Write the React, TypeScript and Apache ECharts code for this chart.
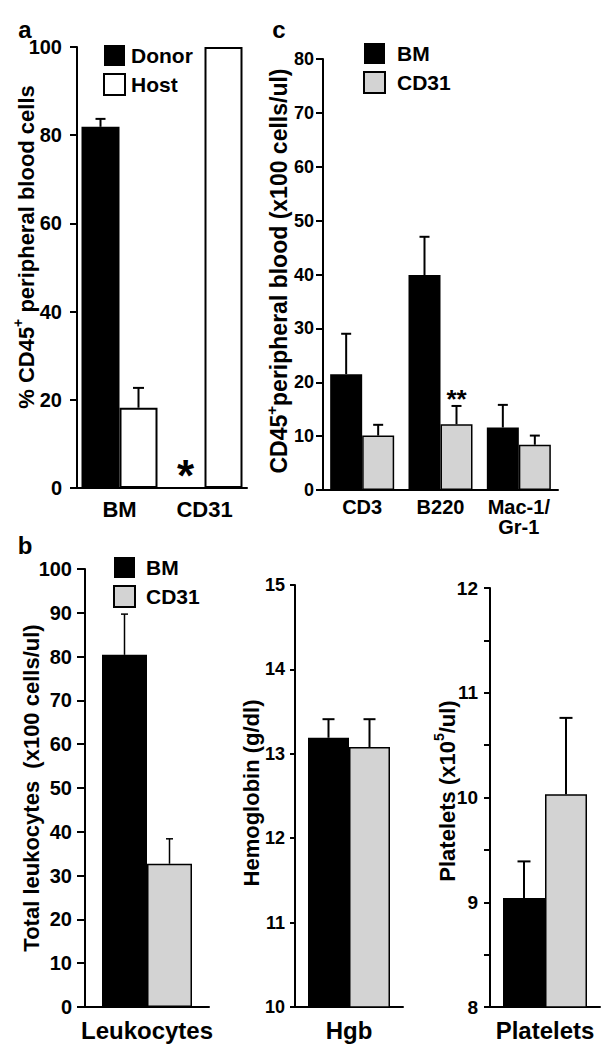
import React, { useEffect, useRef } from 'react';
import * as echarts from 'echarts';

const FONT = '"Liberation Sans", Arial, Helvetica, sans-serif';

// ---------- Panel a ----------
const aCategories = ['BM', 'CD31'];
const aDonor = [81.9, 0];
const aDonorErr = [83.7, 0];
const aHost = [18.2, 100];
const aHostErr = [22.7, 100];
const aDonorSig = ['', '*'];

// ---------- Panel c ----------
const cCategories = ['CD3', 'B220', 'Mac-1/\nGr-1'];
const cBM = [21.5, 39.9, 11.6];
const cBMErr = [29.0, 47.0, 15.8];
const cCD31 = [10.1, 12.2, 8.4];
const cCD31Err = [12.1, 15.6, 10.1];
const cCD31Sig = ['', '**', ''];

// ---------- Panel b ----------
const bLeukCategories = ['Leukocytes'];
const bLeukBM = [80.4];
const bLeukBMErr = [89.7];
const bLeukCD31 = [32.7];
const bLeukCD31Err = [38.4];

const bHgbCategories = ['Hgb'];
const bHgbBM = [13.19];
const bHgbBMErr = [13.41];
const bHgbCD31 = [13.08];
const bHgbCD31Err = [13.41];

const bPltCategories = ['Platelets'];
const bPltBM = [9.04];
const bPltBMErr = [9.39];
const bPltCD31 = [10.03];
const bPltCD31Err = [10.76];

const BLACK = { color: '#000' };
const GRAY = { color: '#d3d3d3', borderColor: '#000', borderWidth: 1.5 };
const WHITE = { color: '#fff', borderColor: '#000', borderWidth: 2 };

function barSeries(name: string, idx: number, data: number[], style: any, barWidth: number) {
  return {
    type: 'bar',
    name,
    xAxisIndex: idx,
    yAxisIndex: idx,
    data,
    barWidth,
    barGap: '0%',
    itemStyle: style,
    silent: true,
  };
}

function errSeries(
  idx: number,
  means: number[],
  his: number[],
  sign: number,
  barW: number,
  capW: number,
  lw: number,
  sig?: string[],
  sigSize?: number,
  sigGap?: number
) {
  return {
    type: 'custom',
    xAxisIndex: idx,
    yAxisIndex: idx,
    silent: true,
    z: 5,
    data: means.map((m, i) => [i, m, his[i]]),
    encode: { x: 0, y: [1, 2] },
    renderItem: (params: any, api: any) => {
      const i = api.value(0);
      const m = api.value(1);
      const h = api.value(2);
      const base = api.coord([i, m]);
      const top = api.coord([i, h]);
      const x = base[0] + (sign * barW) / 2;
      const children: any[] = [];
      if (h > m) {
        children.push({
          type: 'line',
          shape: { x1: x, y1: base[1], x2: x, y2: top[1] },
          style: { stroke: '#000', lineWidth: lw },
        });
        children.push({
          type: 'line',
          shape: { x1: x - capW / 2, y1: top[1], x2: x + capW / 2, y2: top[1] },
          style: { stroke: '#000', lineWidth: lw },
        });
      }
      const s = sig ? sig[params.dataIndex] : '';
      if (s) {
        children.push({
          type: 'text',
          x,
          y: top[1] - (sigGap || 0),
          style: {
            text: s,
            fill: '#000',
            fontSize: sigSize,
            fontWeight: 'bold',
            fontFamily: FONT,
            align: 'center',
            verticalAlign: 'middle',
          },
        });
      }
      return { type: 'group', children };
    },
  };
}

function xAxis(idx: number, data: string[], fontSize: number, margin: number, lineHeight?: number) {
  return {
    type: 'category',
    gridIndex: idx,
    data,
    axisLine: { lineStyle: { color: '#000', width: 2 } },
    axisTick: { show: false },
    axisLabel: {
      color: '#000',
      fontSize,
      fontWeight: 'bold',
      fontFamily: FONT,
      margin,
      lineHeight,
      interval: 0,
    },
  };
}

function yAxis(
  idx: number,
  min: number,
  max: number,
  interval: number,
  tickLen: number,
  margin: number,
  fontSize: number,
  formatter?: any
) {
  return {
    type: 'value',
    gridIndex: idx,
    min,
    max,
    interval,
    splitLine: { show: false },
    axisLine: { show: true, lineStyle: { color: '#000', width: 2 } },
    axisTick: { show: true, length: tickLen, lineStyle: { color: '#000', width: 2 } },
    axisLabel: {
      color: '#000',
      fontSize,
      fontWeight: 'bold',
      fontFamily: FONT,
      margin,
      formatter,
    },
  };
}

function titleText(x: number, y: number, text: string, size: number) {
  return {
    type: 'text',
    x,
    y,
    rotation: Math.PI / 2,
    style: {
      text,
      fill: '#000',
      fontSize: size,
      fontWeight: 'bold',
      fontFamily: FONT,
      align: 'center',
      verticalAlign: 'middle',
      textAlign: 'center',
      textVerticalAlign: 'middle',
      rich: {
        m: { fontSize: size, fontWeight: 'bold', fontFamily: FONT, fill: '#000', verticalAlign: 'bottom', lineHeight: size + 4 },
        s: { fontSize: Math.round(size * 0.65), fontWeight: 'bold', fontFamily: FONT, fill: '#000', verticalAlign: 'top', lineHeight: size + 4 },
      },
    },
  };
}

function panelLabel(x: number, y: number, text: string) {
  return {
    type: 'text',
    x,
    y,
    style: {
      text,
      fill: '#000',
      fontSize: 24,
      fontWeight: 'bold',
      fontFamily: FONT,
      align: 'center',
      verticalAlign: 'middle',
      textAlign: 'center',
      textVerticalAlign: 'middle',
    },
  };
}

function legend(data: string[], left: number, top: number, textPad: number) {
  return {
    data,
    left,
    top,
    orient: 'vertical',
    icon: 'rect',
    itemWidth: 21,
    itemHeight: 21,
    itemGap: 7,
    padding: 0,
    selectedMode: false,
    textStyle: { color: '#000', fontSize: 21, fontWeight: 'bold', fontFamily: FONT, padding: [0, 0, 0, textPad] },
  };
}

const option: any = {
  animation: false,
  backgroundColor: '#fff',
  textStyle: { fontFamily: FONT, fontWeight: 'bold', color: '#000' },
  grid: [
    { left: 77, top: 47, width: 170, height: 441 },
    { left: 323, top: 59, width: 235, height: 431 },
    { left: 85, top: 569, width: 124, height: 438 },
    { left: 295, top: 585, width: 108, height: 422 },
    { left: 490, top: 588, width: 110, height: 419 },
  ],
  xAxis: [
    xAxis(0, aCategories, 22, 10),
    xAxis(1, cCategories, 20, 7, 20),
    xAxis(2, bLeukCategories, 24, 11),
    xAxis(3, bHgbCategories, 24, 11),
    xAxis(4, bPltCategories, 24, 11),
  ],
  yAxis: [
    yAxis(0, 0, 100, 20, 7, 15, 20),
    yAxis(1, 0, 80, 10, 7, 9, 18),
    yAxis(2, 0, 100, 10, 8, 13, 20),
    yAxis(3, 10, 15, 1, 5, 10, 18),
    yAxis(4, 8, 12, 0.5, 6, 12, 19, (v: number) => (Number.isInteger(v) ? String(v) : '')),
  ],
  legend: [
    legend(['Donor', 'Host'], 103, 45, 1),
    legend(['BM', 'CD31'], 363, 43, 7),
    legend(['BM', 'CD31'], 113, 557, 6),
  ],
  graphic: [
    panelLabel(25, 29, 'a'),
    panelLabel(279, 29, 'c'),
    panelLabel(25, 545, 'b'),
    titleText(24, 247, '{m|% CD45}{s|+}{m| peripheral blood cells}', 22),
    titleText(277, 271, '{m|CD45}{s|+}{m|peripheral blood (x100 cells/ul)}', 23),
    titleText(29, 788, '{m|Total leukocytes  (x100 cells/ul)}', 22),
    titleText(249, 793, '{m|Hemoglobin (g/dl)}', 22),
    titleText(445, 791, '{m|Platelets (x10}{s|5}{m|/ul)}', 22),
  ],
  series: [
    // panel a
    barSeries('Donor', 0, aDonor, BLACK, 38),
    barSeries('Host', 0, aHost, WHITE, 38),
    errSeries(0, aDonor, aDonorErr, -1, 38, 10, 2, aDonorSig, 44, 13),
    errSeries(0, aHost, aHostErr, 1, 38, 11, 2),
    // panel c
    barSeries('BM', 1, cBM, BLACK, 32),
    barSeries('CD31', 1, cCD31, GRAY, 32),
    errSeries(1, cBM, cBMErr, -1, 32, 10, 2),
    errSeries(1, cCD31, cCD31Err, 1, 32, 10, 2, cCD31Sig, 26, 7),
    // panel b leukocytes
    barSeries('BM', 2, bLeukBM, BLACK, 45),
    barSeries('CD31', 2, bLeukCD31, GRAY, 45),
    errSeries(2, bLeukBM, bLeukBMErr, -1, 45, 7, 1.5),
    errSeries(2, bLeukCD31, bLeukCD31Err, 1, 45, 7, 1.5),
    // panel b hgb
    barSeries('BM', 3, bHgbBM, BLACK, 41),
    barSeries('CD31', 3, bHgbCD31, GRAY, 41),
    errSeries(3, bHgbBM, bHgbBMErr, -1, 41, 12, 2),
    errSeries(3, bHgbCD31, bHgbCD31Err, 1, 41, 12, 2),
    // panel b platelets
    barSeries('BM', 4, bPltBM, BLACK, 42),
    barSeries('CD31', 4, bPltCD31, GRAY, 42),
    errSeries(4, bPltBM, bPltBMErr, -1, 42, 13, 2),
    errSeries(4, bPltCD31, bPltCD31Err, 1, 42, 13, 2),
  ],
};

export default function App() {
  const ref = useRef<HTMLDivElement>(null);
  useEffect(() => {
    const chart = echarts.init(ref.current as HTMLDivElement, null, { renderer: 'svg' });
    chart.setOption(option);
    return () => chart.dispose();
  }, []);
  return (
    <div
      ref={ref}
      style={{ position: 'absolute', left: 0, top: 0, width: 603, height: 1049, background: '#fff' }}
    />
  );
}
